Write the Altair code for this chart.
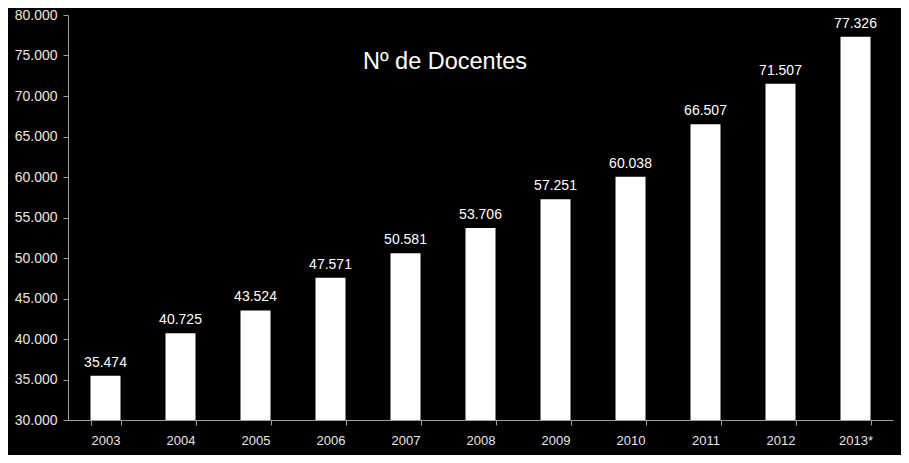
import altair as alt
import pandas as pd

years = ["2003", "2004", "2005", "2006", "2007", "2008", "2009", "2010", "2011", "2012", "2013*"]
docentes = [35474, 40725, 43524, 47571, 50581, 53706, 57251, 60038, 66507, 71507, 77326]
title_text = "Nº de Docentes"

df = pd.DataFrame({"ano": years, "valor": docentes})

FONT = "Liberation Sans"

x = alt.X("ano:N", sort=years, title=None,
          scale=alt.Scale(paddingInner=0.6, paddingOuter=0.3),
          axis=alt.Axis(labelAngle=0, labelColor="#e6e6e6", labelFontSize=13, labelFont=FONT,
                        domainColor="#a0a0a0", tickColor="#a0a0a0", tickSize=5,
                        tickBand="extent", labelPadding=9))

y_scale = alt.Scale(domain=[30000, 80000], zero=False, nice=False)

base = alt.Chart(df)

bars = base.mark_bar(color="white").encode(
    x=x,
    y=alt.Y("valor:Q", scale=y_scale, title=None,
            axis=alt.Axis(values=list(range(30000, 80001, 5000)),
                          labelExpr="replace(format(datum.value, ',d'), ',', '.')",
                          labelColor="#e6e6e6", labelFontSize=14, labelFont=FONT,
                          domainColor="#a0a0a0", tickColor="#a0a0a0", tickSize=5,
                          grid=False, labelPadding=6)),
    y2=alt.datum(30000),
)

labels = base.transform_calculate(
    lab="replace(format(datum.valor, ',d'), ',', '.')"
).mark_text(color="white", fontSize=14, font=FONT, baseline="bottom", dy=-6).encode(
    x=alt.X("ano:N", sort=years),
    y=alt.Y("valor:Q", scale=y_scale),
    text="lab:N",
)

title = alt.Chart(pd.DataFrame({"t": [title_text]})).mark_text(
    color="white", fontSize=23.5, font=FONT, baseline="middle", align="center"
).encode(x=alt.value(377), y=alt.value(47), text="t:N")

chart = alt.layer(bars, labels, title).properties(
    width=825, height=405,
    autosize=alt.AutoSizeParams(type="none"),
    padding={"left": 60, "top": 7, "right": 8, "bottom": 35},
    background="black",
).configure_view(stroke=None)

chart.save("out.html", embed_options={"renderer": "svg", "actions": False})
